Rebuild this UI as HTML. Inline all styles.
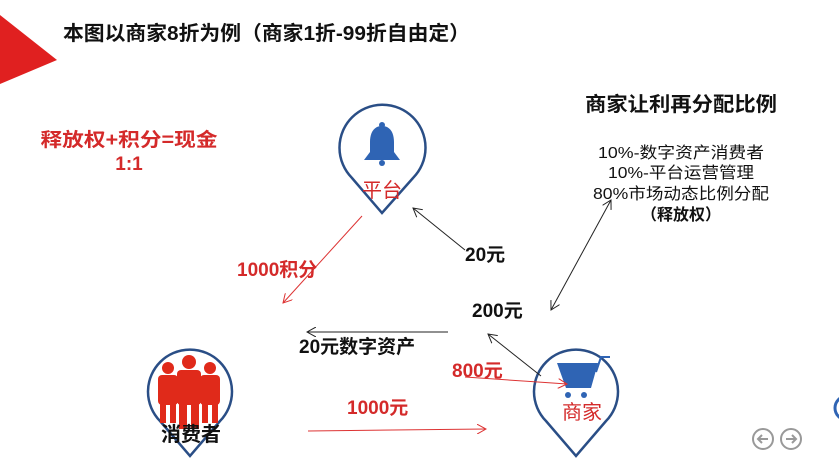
<!DOCTYPE html>
<html><head><meta charset="utf-8"><style>
html,body{margin:0;padding:0;background:#fff;width:839px;height:469px;overflow:hidden}
svg{display:block}
text{font-family:"Liberation Sans","Noto Sans CJK SC",sans-serif}
</style></head><body>
<svg width="839" height="469" viewBox="0 0 839 469" xmlns="http://www.w3.org/2000/svg">
<defs>
<marker id="ak" markerWidth="10" markerHeight="10" refX="9" refY="5" orient="auto" markerUnits="userSpaceOnUse"><path d="M0,0 L9,5 L0,10" fill="none" stroke="#222" stroke-width="1"/></marker>
<marker id="akS" markerWidth="10" markerHeight="10" refX="1" refY="5" orient="auto" markerUnits="userSpaceOnUse"><path d="M10,0 L1,5 L10,10" fill="none" stroke="#222" stroke-width="1"/></marker>
<marker id="ar" markerWidth="10" markerHeight="10" refX="9" refY="5" orient="auto" markerUnits="userSpaceOnUse"><path d="M0,0 L9,5 L0,10" fill="none" stroke="#d33" stroke-width="1"/></marker>
</defs>
<polygon points="0,15 57,60 0,84" fill="#e02020"/>
<text x="63" y="40" font-size="20" font-weight="bold" fill="#111" textLength="407" lengthAdjust="spacingAndGlyphs">本图以商家8折为例（商家1折-99折自由定）</text>
<text x="129" y="146" font-size="19" font-weight="bold" fill="#d42a2a" text-anchor="middle" textLength="177" lengthAdjust="spacingAndGlyphs">释放权+积分=现金</text>
<text x="129" y="170" font-size="19" font-weight="bold" fill="#d42a2a" text-anchor="middle">1:1</text>
<text x="681" y="111" font-size="20" font-weight="bold" fill="#111" text-anchor="middle" textLength="192" lengthAdjust="spacingAndGlyphs">商家让利再分配比例</text>
<g font-size="16" fill="#111" text-anchor="middle">
<text x="681" y="158" textLength="166" lengthAdjust="spacingAndGlyphs">10%-数字资产消费者</text>
<text x="681" y="178" textLength="146" lengthAdjust="spacingAndGlyphs">10%-平台运营管理</text>
<text x="681" y="199" textLength="176" lengthAdjust="spacingAndGlyphs">80%市场动态比例分配</text>
<text x="681" y="220" font-weight="bold">（释放权）</text>
</g>
<g fill="none" stroke="#2a4e86" stroke-width="2.5">
<path d="M352,178 A43,43 0 1 1 413,178 L382,213 Z"/>
<path d="M160,421 A42,42 0 1 1 220,421 L190,456 Z"/>
<path d="M546,421 A42,42 0 1 1 606,421 L576,456 Z"/>
</g>
<path d="M382,126 c-9,0 -12,8 -12,16 l0,10 l-6,8 l36,0 l-6,-8 l0,-10 c0,-8 -3,-16 -12,-16z" fill="#2f64b4"/>
<circle cx="382" cy="125" r="3" fill="#2f64b4"/><circle cx="382" cy="163" r="3" fill="#2f64b4"/>
<text x="382" y="197" font-size="20" fill="#d42a2a" text-anchor="middle">平台</text>
<g fill="#e02a1a">
<circle cx="168" cy="368" r="6"/><rect x="158" y="375" width="20" height="30" rx="4"/><rect x="160" y="403" width="6" height="20"/><rect x="170" y="403" width="6" height="20"/>
<circle cx="210" cy="368" r="6"/><rect x="200" y="375" width="20" height="30" rx="4"/><rect x="202" y="403" width="6" height="20"/><rect x="212" y="403" width="6" height="20"/>
<circle cx="189" cy="362" r="7"/><rect x="177" y="370" width="24" height="35" rx="4"/><rect x="179" y="403" width="8" height="26"/><rect x="191" y="403" width="8" height="26"/>
</g>
<text x="191" y="441" font-size="20" font-weight="bold" fill="#111" text-anchor="middle">消费者</text>
<path d="M557,363 L598,363 L591,388 L566,388 Z" fill="#2f64b4"/>
<path d="M596,372 L601,357 L610,357" fill="none" stroke="#2f64b4" stroke-width="2"/>
<circle cx="568" cy="395" r="3" fill="#2f64b4"/><circle cx="584" cy="395" r="3" fill="#2f64b4"/>
<text x="582" y="419" font-size="20" fill="#d42a2a" text-anchor="middle">商家</text>
<line x1="465" y1="250" x2="413" y2="208" stroke="#222" stroke-width="1" marker-end="url(#ak)"/>
<line x1="362" y1="216" x2="283" y2="303" stroke="#d33" stroke-width="1" marker-end="url(#ar)"/>
<line x1="448" y1="332" x2="307" y2="332" stroke="#222" stroke-width="1" marker-end="url(#ak)"/>
<line x1="541" y1="376" x2="488" y2="334" stroke="#222" stroke-width="1" marker-end="url(#ak)"/>
<line x1="551" y1="310" x2="611" y2="200" stroke="#222" stroke-width="1" marker-end="url(#ak)" marker-start="url(#akS)"/>
<line x1="308" y1="431" x2="486" y2="429" stroke="#d33" stroke-width="1" marker-end="url(#ar)"/>
<line x1="465" y1="377" x2="567" y2="384" stroke="#d33" stroke-width="1" marker-end="url(#ar)"/>
<text x="237" y="276" font-size="19" font-weight="bold" fill="#d42a2a">1000积分</text>
<text x="465" y="261" font-size="19" font-weight="bold" fill="#111">20元</text>
<text x="472" y="317" font-size="19" font-weight="bold" fill="#111">200元</text>
<text x="299" y="353" font-size="19" font-weight="bold" fill="#111">20元数字资产</text>
<text x="452" y="377" font-size="19" font-weight="bold" fill="#d42a2a">800元</text>
<text x="347" y="414" font-size="19" font-weight="bold" fill="#d42a2a">1000元</text>
<g fill="none" stroke="#999" stroke-width="2">
<circle cx="763" cy="439" r="10"/><circle cx="791" cy="439" r="10"/>
<path d="M768,439 L758,439 M762,435 L758,439 L762,443"/>
<path d="M786,439 L796,439 M792,435 L796,439 L792,443"/>
</g>
<circle cx="847" cy="408" r="12" fill="none" stroke="#2f64b4" stroke-width="3"/>
</svg>
</body></html>
